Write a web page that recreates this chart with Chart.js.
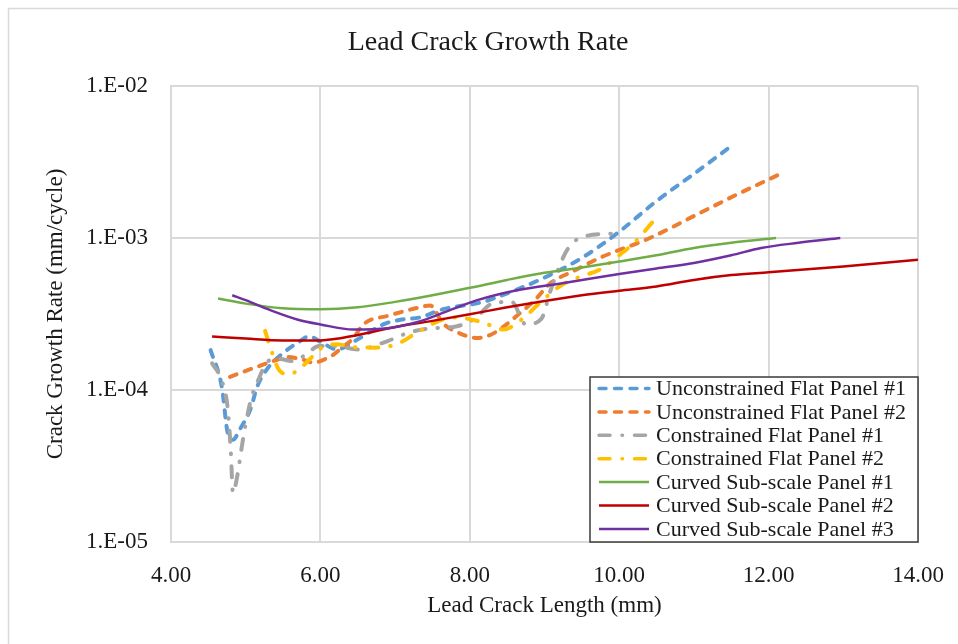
<!DOCTYPE html>
<html>
<head>
<meta charset="utf-8">
<script src="https://cdn.jsdelivr.net/npm/chart.js@4.4.0/dist/chart.umd.min.js"></script>
<style>
  body { margin: 0; background: #fff; }
  #wrap { width: 958px; height: 644px; }
</style>
</head>
<body>
<div id="wrap"><canvas id="myChart" width="958" height="644"></canvas></div>
<script>
const chartTitle = "Lead Crack Growth Rate";
const xTitle = "Lead Crack Length (mm)";
const yTitle = "Crack Growth Rate (mm/cycle)";

const xTickValues = [4, 6, 8, 10, 12, 14];
const xTickLabels = ["4.00", "6.00", "8.00", "10.00", "12.00", "14.00"];
const yTickValues = [1e-5, 1e-4, 1e-3, 1e-2];
const yTickLabels = ["1.E-05", "1.E-04", "1.E-03", "1.E-02"];

const seriesNames = [
  "Unconstrained Flat Panel #1",
  "Unconstrained Flat Panel #2",
  "Constrained Flat Panel #1",
  "Constrained Flat Panel #2",
  "Curved Sub-scale Panel #1",
  "Curved Sub-scale Panel #2",
  "Curved Sub-scale Panel #3"
];

// Unconstrained Flat Panel #1
const uf1X = [4.53, 4.68, 4.76, 4.83, 4.92, 5.06, 5.16, 5.30, 5.50, 5.70, 5.85, 6.02, 6.22, 6.49, 6.84, 7.07, 7.33, 7.64, 8.18, 8.54, 9.07, 9.52, 10.0, 10.5, 11.0, 11.52];
const uf1Y = [1.83e-4, 1.05e-4, 5.2e-5, 4.7e-5, 5.5e-5, 7.4e-5, 1.07e-4, 1.4e-4, 1.75e-4, 2.05e-4, 2.25e-4, 2.05e-4, 1.85e-4, 2.14e-4, 2.7e-4, 2.9e-4, 3.0e-4, 3.4e-4, 3.8e-4, 4.4e-4, 5.7e-4, 7.5e-4, 1.1e-3, 1.75e-3, 2.64e-3, 4.1e-3];

// Unconstrained Flat Panel #2
const uf2X = [4.79, 5.15, 5.42, 5.55, 5.77, 5.91, 6.04, 6.17, 6.30, 6.44, 6.57, 6.93, 7.33, 7.47, 7.64, 7.83, 8.10, 8.27, 8.40, 8.67, 8.87, 9.07, 9.40, 9.74, 10.41, 11.08, 11.62, 12.13];
const uf2Y = [1.22e-4, 1.42e-4, 1.58e-4, 1.65e-4, 1.58e-4, 1.51e-4, 1.58e-4, 1.7e-4, 1.92e-4, 2.19e-4, 2.69e-4, 3.1e-4, 3.5e-4, 3.6e-4, 2.75e-4, 2.4e-4, 2.2e-4, 2.3e-4, 2.5e-4, 3.2e-4, 3.9e-4, 5.0e-4, 6.1e-4, 7.4e-4, 1.0e-3, 1.46e-3, 1.98e-3, 2.6e-3];

// Constrained Flat Panel #1
const cf1X = [4.55, 4.68, 4.76, 4.80, 4.83, 4.88, 4.94, 5.00, 5.08, 5.18, 5.30, 5.45, 5.62, 5.80, 5.98, 6.20, 6.50, 6.90, 7.20, 7.50, 7.78, 8.07, 8.30, 8.56, 8.75, 8.96, 9.08, 9.30, 9.52, 9.92];
const cf1Y = [1.5e-4, 1.15e-4, 7.5e-5, 4.0e-5, 2.1e-5, 2.6e-5, 4.0e-5, 6.0e-5, 9.0e-5, 1.2e-4, 1.55e-4, 1.6e-4, 1.55e-4, 1.7e-4, 1.95e-4, 1.95e-4, 1.85e-4, 2.1e-4, 2.4e-4, 2.55e-4, 2.6e-4, 2.95e-4, 3.7e-4, 3.8e-4, 2.7e-4, 2.95e-4, 4.5e-4, 8.3e-4, 1.02e-3, 1.07e-3];

// Constrained Flat Panel #2
const cf2X = [5.26, 5.33, 5.45, 5.58, 5.70, 5.86, 6.02, 6.22, 6.42, 6.70, 7.02, 7.30, 7.55, 7.80, 8.16, 8.45, 8.71, 8.95, 9.20, 9.45, 9.74, 10.0, 10.2, 10.45];
const cf2Y = [2.45e-4, 1.9e-4, 1.35e-4, 1.27e-4, 1.35e-4, 1.6e-4, 1.9e-4, 2.0e-4, 1.92e-4, 1.9e-4, 2.0e-4, 2.4e-4, 2.8e-4, 3.0e-4, 2.8e-4, 2.5e-4, 2.95e-4, 3.8e-4, 4.8e-4, 5.5e-4, 6.2e-4, 7.7e-4, 9.3e-4, 1.28e-3];

// Curved Sub-scale Panel #1
const cs1X = [4.63, 5.0, 5.5, 6.0, 6.5, 7.0, 7.5, 8.0, 8.5, 9.0, 9.5, 10.0, 10.5, 11.0, 11.5, 12.1];
const cs1Y = [4.0e-4, 3.7e-4, 3.45e-4, 3.4e-4, 3.5e-4, 3.8e-4, 4.2e-4, 4.7e-4, 5.3e-4, 5.9e-4, 6.4e-4, 7.0e-4, 7.7e-4, 8.6e-4, 9.3e-4, 1.0e-3];

// Curved Sub-scale Panel #2
const cs2X = [4.55, 5.0, 5.5, 6.0, 6.5, 7.0, 7.5, 8.0, 8.5, 9.0, 9.5, 10.0, 10.5, 11.0, 11.5, 12.0, 13.0, 14.0];
const cs2Y = [2.25e-4, 2.18e-4, 2.12e-4, 2.12e-4, 2.3e-4, 2.6e-4, 2.85e-4, 3.15e-4, 3.5e-4, 3.85e-4, 4.2e-4, 4.5e-4, 4.8e-4, 5.3e-4, 5.7e-4, 5.95e-4, 6.5e-4, 7.2e-4];

// Curved Sub-scale Panel #3
const cs3X = [4.82, 5.0, 5.33, 5.7, 6.0, 6.44, 6.9, 7.3, 7.7, 8.1, 8.6, 9.3, 10.0, 10.5, 11.0, 11.5, 11.9, 12.4, 12.96];
const cs3Y = [4.2e-4, 3.9e-4, 3.35e-4, 2.9e-4, 2.7e-4, 2.5e-4, 2.55e-4, 2.8e-4, 3.3e-4, 3.9e-4, 4.5e-4, 5.1e-4, 5.8e-4, 6.3e-4, 6.85e-4, 7.7e-4, 8.6e-4, 9.3e-4, 1.0e-3];

const xs = [uf1X, uf2X, cf1X, cf2X, cs1X, cs2X, cs3X];
const ys = [uf1Y, uf2Y, cf1Y, cf2Y, cs1Y, cs2Y, cs3Y];

const colors = ["#5B9BD5", "#ED7D31", "#A5A5A5", "#FFC000", "#70AD47", "#C00000", "#7030A0"];
const dashes = [[7, 8.5], [7, 8.5], [11, 12, 0.5, 12], [11, 12, 0.5, 12], [], [], []];
const widths = [4, 4, 4, 4, 2.5, 2.5, 2.5];

const SERIF = '"Liberation Serif", "Times New Roman", serif';
const TXT = "#1a1a1a";

const datasets = seriesNames.map((name, i) => ({
  label: name,
  data: xs[i].map((x, j) => ({ x: x, y: ys[i][j] })),
  showLine: true,
  borderColor: colors[i],
  backgroundColor: colors[i],
  borderWidth: widths[i],
  borderDash: dashes[i],
  borderCapStyle: dashes[i].length ? "round" : "butt",
  pointRadius: 0,
  pointHoverRadius: 0,
  cubicInterpolationMode: "monotone",
  order: seriesNames.length - i
}));

// white page + light outer frame + title
const framePlugin = {
  id: "frame",
  beforeDraw(chart) {
    const ctx = chart.ctx;
    ctx.save();
    ctx.fillStyle = "#fff";
    ctx.fillRect(0, 0, chart.width, chart.height);
    ctx.strokeStyle = "#D9D9D9";
    ctx.lineWidth = 1.5;
    ctx.beginPath();
    ctx.moveTo(8.5, chart.height);
    ctx.lineTo(8.5, 8.5);
    ctx.lineTo(chart.width, 8.5);
    ctx.stroke();
    ctx.restore();
  },
  afterDraw(chart) {
    const ctx = chart.ctx;
    ctx.save();
    ctx.fillStyle = TXT;
    ctx.font = "28px " + SERIF;
    ctx.textAlign = "center";
    ctx.textBaseline = "middle";
    ctx.fillText(chartTitle, 488, 43);
    ctx.restore();
  }
};

// boxed legend inside the plot, like the Excel one
const boxLegend = {
  id: "boxLegend",
  afterDraw(chart) {
    const ctx = chart.ctx;
    const x0 = 590, y0 = 377, w = 328, h = 165;
    ctx.save();
    ctx.fillStyle = "#fff";
    ctx.fillRect(x0, y0, w, h);
    ctx.strokeStyle = "#3a3a3a";
    ctx.lineWidth = 1.5;
    ctx.strokeRect(x0, y0, w, h);
    ctx.font = "22px " + SERIF;
    ctx.textBaseline = "middle";
    chart.data.datasets.forEach((ds, i) => {
      const y = y0 + 11.5 + i * 23.4;
      ctx.strokeStyle = ds.borderColor;
      ctx.lineWidth = Math.min(ds.borderWidth, 3.5);
      ctx.setLineDash(ds.borderDash);
      ctx.lineCap = ds.borderCapStyle;
      ctx.beginPath();
      ctx.moveTo(599, y);
      ctx.lineTo(649, y);
      ctx.stroke();
      ctx.setLineDash([]);
      ctx.fillStyle = TXT;
      ctx.fillText(ds.label, 656, y + 1);
    });
    ctx.restore();
  }
};

const myChart = new Chart("myChart", {
  type: "scatter",
  data: { datasets: datasets },
  plugins: [framePlugin, boxLegend],
  options: {
    responsive: false,
    animation: false,
    events: [],
    layout: { padding: { left: 8, top: 86, right: 40, bottom: 0 } },
    plugins: {
      legend: { display: false },
      title: { display: false },
      tooltip: { enabled: false }
    },
    scales: {
      x: {
        type: "linear",
        min: 4,
        max: 14,
        afterBuildTicks: (s) => { s.ticks = xTickValues.map(v => ({ value: v })); },
        afterFit: (s) => { s.height = 102; },
        ticks: {
          padding: 0,
          color: TXT,
          font: { family: SERIF, size: 23 },
          callback: (v) => xTickLabels[xTickValues.indexOf(v)]
        },
        grid: { color: "#D9D9D9", lineWidth: 2, drawTicks: true, tickLength: 20, tickColor: "rgba(0,0,0,0)" },
        border: { color: "#D9D9D9", width: 2 },
        title: {
          display: true,
          text: xTitle,
          color: TXT,
          font: { family: SERIF, size: 23 },
          padding: { top: 0, bottom: 24 }
        }
      },
      y: {
        type: "logarithmic",
        min: 1e-5,
        max: 1e-2,
        afterBuildTicks: (s) => { s.ticks = yTickValues.map(v => ({ value: v })); },
        afterFit: (s) => { s.width = 163; },
        ticks: {
          padding: 23,
          color: TXT,
          font: { family: SERIF, size: 23 },
          callback: (v) => yTickLabels[yTickValues.indexOf(v)]
        },
        grid: { color: "#D9D9D9", lineWidth: 2, drawTicks: false },
        border: { color: "#D9D9D9", width: 2 },
        title: {
          display: true,
          text: yTitle,
          color: TXT,
          font: { family: SERIF, size: 23 },
          padding: { top: 34, bottom: 0 }
        }
      }
    }
  }
});
</script>
</body>
</html>
